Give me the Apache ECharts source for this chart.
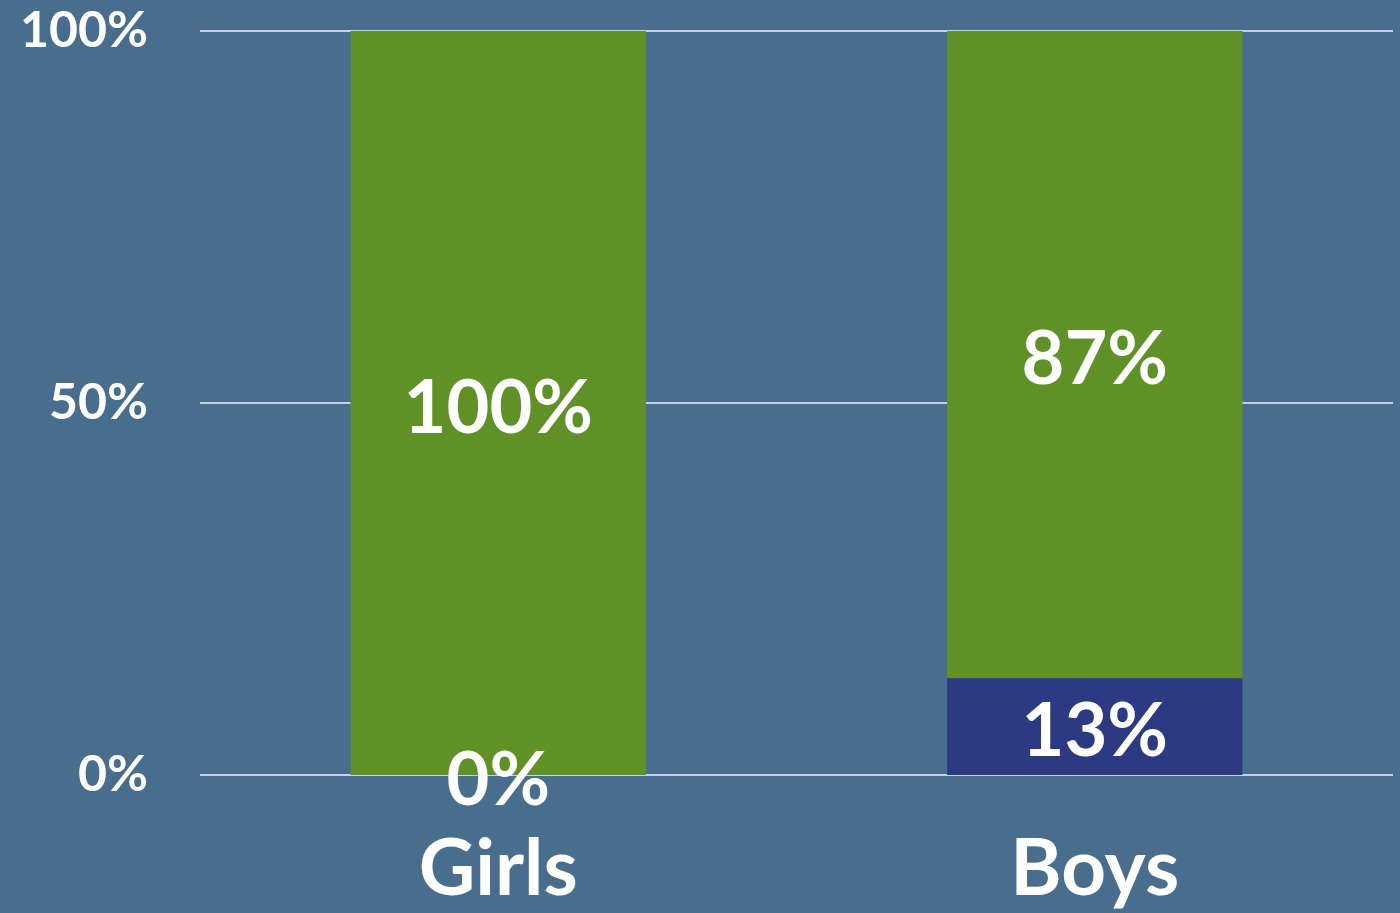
<!DOCTYPE html>
<html>
<head>
<meta charset="utf-8">
<script src="https://cdn.jsdelivr.net/npm/echarts@6/dist/echarts.min.js"></script>
<style>
html,body{margin:0;padding:0;background:#486d8d;}
#chart{width:1400px;height:913px;}
</style>
</head>
<body>
<div id="chart"></div>
<script>
const categories = ['Girls', 'Boys'];
const lowerValues = [0, 13];     // navy segment
const upperValues = [100, 87];   // green segment
const yTicks = [0, 50, 100];

const chart = echarts.init(document.getElementById('chart'));
const labelStyle = {
  show: true,
  position: 'inside',
  offset: [0, 6],
  formatter: p => p.value + '%',
  color: '#ffffff',
  fontFamily: 'Lato, "Open Sans", sans-serif',
  fontWeight: 'bold',
  fontSize: 74
};
chart.setOption({
  backgroundColor: '#486d8d',
  animation: false,
  grid: { left: 200, right: 7, top: 31, bottom: 138 },
  xAxis: {
    type: 'category',
    data: categories,
    axisLine: { show: false },
    axisTick: { show: false },
    axisLabel: {
      color: '#ffffff',
      fontFamily: 'Lato, "Open Sans", sans-serif',
      fontWeight: 'bold',
      fontSize: 78,
      lineHeight: 78,
      margin: 56,
      verticalAlign: 'top'
    }
  },
  yAxis: {
    type: 'value',
    min: 0, max: 100, interval: 50,
    axisLine: { show: false },
    axisTick: { show: false },
    splitLine: { lineStyle: { color: '#c9cfe6', width: 2 } },
    axisLabel: {
      color: '#ffffff',
      fontFamily: 'Lato, "Open Sans", sans-serif',
      fontWeight: 'bold',
      fontSize: 50,
      margin: 52,
      formatter: v => yTicks.includes(v) ? v + '%' : ''
    }
  },
  series: [
    {
      type: 'bar', stack: 'total', data: lowerValues,
      barWidth: '49.5%',
      itemStyle: { color: '#2c3a84' },
      label: labelStyle,
      z: 3
    },
    {
      type: 'bar', stack: 'total', data: upperValues,
      barWidth: '49.5%',
      itemStyle: { color: '#5f9127' },
      label: labelStyle,
      z: 2
    }
  ]
});
</script>
</body>
</html>
